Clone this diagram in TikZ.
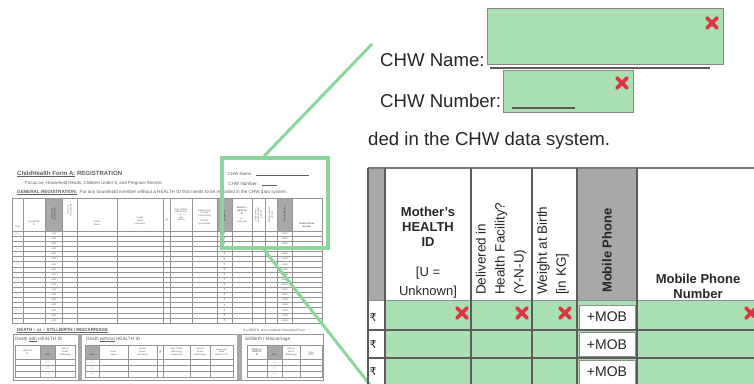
\documentclass[tikz,border=0pt]{standalone}
\usepackage{fontspec}
\setmainfont{Liberation Sans}
\newfontfamily\symfont{DejaVu Sans}
\usepackage{graphicx}
\usetikzlibrary{calc}

\definecolor{fillgreen}{HTML}{A9DFB1}
\definecolor{linkgreen}{HTML}{8CD59C}
\definecolor{headgray}{HTML}{A8A8A8}
\definecolor{rulegray}{HTML}{5C5C5C}
\definecolor{ink}{HTML}{262626}
\definecolor{faint}{HTML}{5E5E5E}
\definecolor{faintrule}{HTML}{939393}
\definecolor{thumbgray}{HTML}{A8A8A8}
\definecolor{crossred}{HTML}{DC3545}

\newcommand\fitto[2]{\resizebox{#1pt}{!}{#2}}

\tikzset{
  big/.style={font=\fontsize{18.6}{22}\selectfont, text=ink, inner sep=0},
  hdr/.style={font=\fontsize{13}{15}\selectfont\bfseries, text=ink, inner sep=0, align=center},
  hdrthin/.style={font=\fontsize{13.5}{19}\selectfont, text=ink, inner sep=0, align=left},
  tinytxt/.style={font=\fontsize{2.3}{2.7}\selectfont, text=faint, inner sep=0, align=center},
  tinybold/.style={font=\fontsize{2.3}{2.7}\selectfont\bfseries, text=faint, inner sep=0, align=center},
  thinrule/.style={draw=faintrule, line width=0.5pt},
  gridrule/.style={draw=rulegray, line width=1.3pt},
  entrybox/.style={draw=rulegray!75, line width=0.8pt, fill=fillgreen, inner sep=0},
  mobbox/.style={draw=rulegray!70, line width=0.8pt, fill=white, inner sep=0,
    minimum width=56pt, minimum height=24pt, font=\fontsize{14}{14}\selectfont, text=ink},
  redx/.pic={\draw[crossred, line width=3.6pt, line cap=round] (-5,-5) -- (5,5) (-5,5) -- (5,-5);}
}

\begin{document}
\begin{tikzpicture}[x=1pt, y=-1pt]
\useasboundingbox (0,0) rectangle (754,383);
\clip (0,0) rectangle (754,383);

% ---------------- small form page ----------------
\node[anchor=base west, text=faint, inner sep=0] (ftitle) at (17,175)
  {\fitto{105}{\bfseries\underline{ChildHealth Form A:} REGISTRATION}};
\node[anchor=base west, text=faint, inner sep=0] (ffocus) at (25,184)
  {\fitto{137}{Focus on: Household Heads, Children Under 5, and Pregnant Women}};
\node[anchor=base west, text=faint, inner sep=0] (fgeneral) at (17,193)
  {\fitto{270}{\bfseries\underline{GENERAL REGISTRATION:}\mdseries\ \ For any household member without a HEALTH ID that needs to be recorded in the CHW data system.}};
\node[anchor=base west, text=faint, inner sep=0] (fname) at (228,175) {\fitto{24}{CHW Name:}};
\draw[thinrule, draw=faint] (256,175.5) -- (309,175.5);
\node[anchor=base west, text=faint, inner sep=0] (fnumber) at (228,185) {\fitto{30}{CHW Number:}};
\draw[thinrule, draw=faint] (262,185.5) -- (277,185.5);

% main registration grid
\fill[thumbgray] (45,198) rectangle (62,231);
\fill[thumbgray] (217,198) rectangle (232,231);
\fill[thumbgray] (277,198) rectangle (292,231);
\draw[thinrule] (12,198) rectangle (322,323);
\draw[thinrule] (12,231) -- (322,231);
\foreach \x in {23,45,62,77,117,163,170,192,217,232,252,265,277,292}
  \draw[thinrule] (\x,198) -- (\x,323);
\foreach \i in {1,...,17}
  \draw[thinrule] (12,{231+\i*92/18}) -- (322,{231+\i*92/18});
\foreach \i in {0,...,17} {
  \node[tinytxt] (hid-\i) at (53.5,{231+(\i+0.5)*92/18}) {+HID};
  \node[tinytxt, font=\symfont\fontsize{2.6}{2.6}\selectfont] (prg-\i) at (224.5,{231+(\i+0.5)*92/18}) {₹};
  \node[tinytxt] (mob-\i) at (284.5,{231+(\i+0.5)*92/18}) {+MOB};
}
\foreach \i in {0,3,6,9,12,15}
  \node[tinytxt] (date-\i) at (17.5,{231+(\i+0.5)*92/18}) {\_/\_/\_};

% column headings of the grid
\node[tinytxt] (hDate) at (17.5,227) {Date};
\node[tinytxt] (hHH) at (34,223) {Household\\ID};
\node[tinybold, rotate=90, text=ink!80] (hHID) at (53.5,214) {Individual\\HEALTH ID};
\node[tinytxt, rotate=90] (hHead) at (69.5,210) {Head of\\Household?};
\node[tinytxt] (hGiven) at (97,223) {Given\\Name};
\node[tinytxt] (hFamily) at (140,221) {Family\\Name\\(Surname)};
\node[tinytxt, rotate=90] (hSex) at (166.5,220) {Sex};
\node[tinytxt] (hBirth) at (181,215) {Date of Birth\\(dd/mm/yy)\\--- or ---\\Age\\(years)};
\node[tinytxt] (hRel) at (204.5,217) {Relationship\\to Head\\(code below)\\\\If Head,\\leave blank};
\node[tinybold, rotate=90, text=ink!80] (hPreg) at (224.5,216) {Pregnant?};
\node[tinytxt] (hMother) at (242,215) {\textbf{Mother's}\\\textbf{HEALTH}\\\textbf{ID}\\\\{[U =}\\{Unknown]}};
\node[tinytxt, rotate=90] (hDeliv) at (258.5,215) {Delivered in\\Health Facility?\\(Y-N-U)};
\node[tinytxt, rotate=90] (hWeight) at (271,215) {Weight at Birth\\{[in KG]}};
\node[tinybold, rotate=90, text=ink!80] (hMobile) at (284.5,214) {Mobile Phone};
\node[tinybold] (hNumber) at (307,225) {Mobile Phone\\Number};

% death and stillbirth part
\node[anchor=base west, text=faint, inner sep=0] (fdeath) at (17,331)
  {\fitto{91}{\bfseries\underline{DEATH -- or -- STILLBIRTH / MISCARRIAGE}}};
\node[anchor=base west, text=faint, inner sep=0] (fnote) at (243,331)
  {\fitto{62}{If a DEATH, also complete Household Form}};
\draw[thinrule] (13,334) rectangle (323,380);
\fill[thumbgray] (78,334) rectangle (82,380);
\fill[thumbgray] (237,334) rectangle (242,380);
\node[anchor=base west, text=faint, inner sep=0] (fwith) at (15,340) {\fitto{47}{Death \underline{with} HEALTH ID}};
\node[anchor=base west, text=faint, inner sep=0] (fwithout) at (86,340) {\fitto{54}{Death \underline{without} HEALTH ID}};
\node[anchor=base west, text=faint, inner sep=0] (fstill) at (245,340) {\fitto{45}{Stillbirth / Miscarriage}};

\fill[thumbgray] (40,345) rectangle (55,359);
\fill[thumbgray] (85,345) rectangle (99,359);
\fill[thumbgray] (267,345) rectangle (282,359);
\draw[thinrule] (15,345) rectangle (75,377);
\draw[thinrule] (85,345) rectangle (233,377);
\draw[thinrule] (247,345) rectangle (322,377);
\foreach \x in {40,55} \draw[thinrule] (\x,345) -- (\x,377);
\foreach \x in {99,128,157,163,190,210} \draw[thinrule] (\x,345) -- (\x,377);
\foreach \x in {267,282,300} \draw[thinrule] (\x,345) -- (\x,377);
\foreach \y in {359,365,371} {
  \draw[thinrule] (15,\y) -- (75,\y);
  \draw[thinrule] (85,\y) -- (233,\y);
  \draw[thinrule] (247,\y) -- (322,\y);
}
\foreach \y [count=\k] in {362,368,374} {
  \node[tinytxt] (dA-\k) at (47.5,\y) {\_/\_/\_};
  \node[tinytxt] (dB-\k) at (92,\y) {\_/\_/\_};
  \node[tinytxt] (dC-\k) at (274.5,\y) {\_/\_/\_};
}
\node[tinytxt] (bHID) at (27.5,352) {HEALTH\\ID};
\node[tinybold] (bDate1) at (47.5,355) {Date};
\node[tinytxt] (bDeath1) at (65,352) {Date of\\Death\\(dd/mm/yy)};
\node[tinybold] (bDate2) at (92,355) {Date};
\node[tinytxt] (bGiven) at (113.5,353) {Given\\Name};
\node[tinytxt] (bFamily) at (142.5,352) {Family\\Name\\(Surname)};
\node[tinytxt, rotate=90] (bSex) at (160,352) {Sex};
\node[tinytxt] (bBirth) at (176.5,352) {Date of Birth\\(dd/mm/yy)\\or Age (yrs)};
\node[tinytxt] (bDeath2) at (200,352) {Date of\\Death\\(dd/mm/yy)};
\node[tinytxt] (bHead) at (221.5,352) {Household\\Head\\HEALTH ID};
\node[tinytxt] (bMother) at (257,352) {\textbf{Mother's}\\\textbf{HEALTH}\\\textbf{ID}};
\node[tinybold] (bDate3) at (274.5,355) {Date};
\node[tinytxt] (bEvent) at (291,352) {Date of\\Event\\(dd/mm/yy)};
\node[tinytxt] (bType) at (311,354) {Type\\(S/M)};

% ---------------- magnifier ----------------
\node[draw=linkgreen, line width=3.5pt, minimum width=106pt, minimum height=90pt, inner sep=0] (lens) at (275,203) {};
\coordinate (lensTop) at ($(lens.north west)!0.4!(lens.north east)$);
\coordinate (lensBottom) at ($(lens.south west)!0.4!(lens.south east)$);
\coordinate (viewTop) at (372,44);
\coordinate (viewBottom) at (374,390);
\draw[linkgreen, line width=3pt] (lensTop) -- (viewTop);
\draw[linkgreen, line width=3pt] (lensBottom) -- (viewBottom);

% ---------------- enlarged view ----------------
\node[big, anchor=base west] (chwname) at (380,66) {CHW Name:};
\node[big, anchor=base west] (chwnum) at (380,107) {CHW Number:};
\node[big, anchor=base west] (dataline) at (368,145) {ded in the CHW data system.};

\node[entrybox, minimum width=236pt, minimum height=56pt] (namebox) at (605,36) {};
\draw[rulegray, line width=2pt] (490,68) -- (710,68);
\node[entrybox, minimum width=130pt, minimum height=42pt] (numbox) at (568,91) {};
\draw[rulegray, line width=1.2pt] (512,108) -- (575,108);
\pic at (712,23) {redx};
\pic at (622,83) {redx};

% heading row of the enlarged grid
\fill[headgray] (368,168) rectangle (385,300);
\fill[headgray] (577,168) rectangle (637,300);
\node[hdr] (mother) at (428,227) {Mother's\\HEALTH\\ID};
\node[hdr, font=\fontsize{13}{19}\selectfont] (unknown) at (428,283) {{[U =}\\{Unknown]}};
\node[hdrthin, rotate=90, anchor=west] (delivered) at (501,295) {Delivered in\\Health Facility?\\(Y-N-U)};
\node[hdrthin, rotate=90, anchor=west] (weight) at (553,295) {Weight at Birth\\{[in KG]}};
\node[hdr, rotate=90, anchor=west] (mobile) at (607,293) {Mobile Phone};
\node[hdr] (number) at (698,286) {Mobile Phone\\Number};

% entry rows
\fill[fillgreen] (385,300) rectangle (760,390);
\draw[rulegray!70, line width=1pt] (368,300) -- (760,300);
\node[mobbox] (mob1) at (607,317) {+MOB};
\node[mobbox] (mob2) at (607,344.5) {+MOB};
\node[mobbox] (mob3) at (607,372) {+MOB};
\draw[gridrule] (368,330) -- (760,330);
\draw[gridrule] (368,358) -- (760,358);
\draw[rulegray!80, line width=1.8pt] (368,168) -- (760,168);
\foreach \x in {368,385,471,532,577,637}
  \draw[gridrule] (\x,168) -- (\x,390);
\foreach \y [count=\k] in {317,344,371}
  \node[font=\symfont\fontsize{11}{11}\selectfont, text=ink, inner sep=0] (rupee-\k) at (373,\y) {₹};

\pic at (462,313) {redx};
\pic at (522,313) {redx};
\pic at (565,313) {redx};
\pic at (751,313) {redx};
\end{tikzpicture}
\end{document}
